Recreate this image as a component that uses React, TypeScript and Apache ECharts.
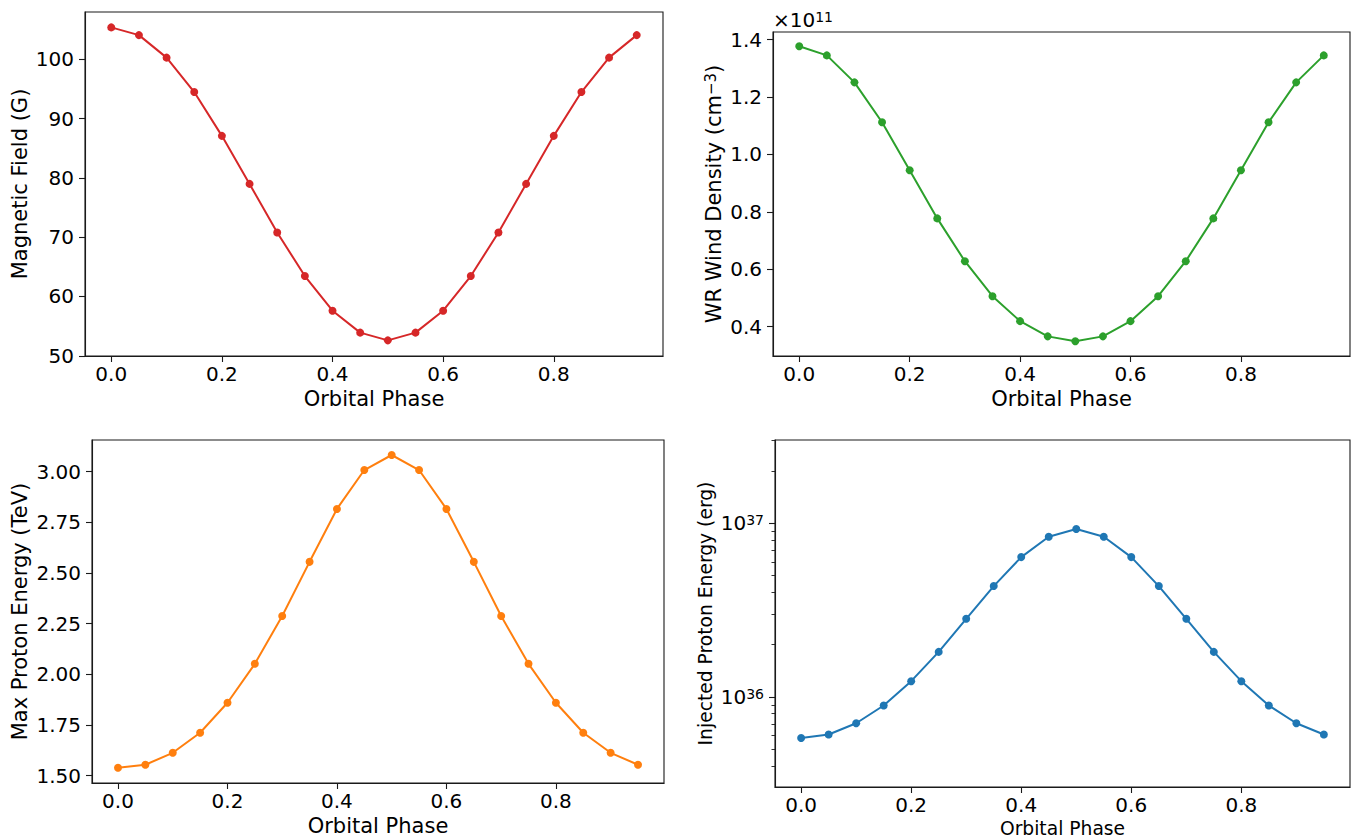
import React, { useEffect, useRef } from 'react';
import * as echarts from 'echarts';

const phases = [0, 0.05, 0.1, 0.15, 0.2, 0.25, 0.3, 0.35, 0.4, 0.45, 0.5, 0.55, 0.6, 0.65, 0.7, 0.75, 0.8, 0.85, 0.9, 0.95];
const magneticField = [105.4, 104.1, 100.3, 94.5, 87.1, 79.0, 70.8, 63.45, 57.6, 53.9, 52.6, 53.9, 57.6, 63.45, 70.8, 79.0, 87.1, 94.5, 100.3, 104.1];
const windDensity = [1.377e11, 1.345e11, 1.251e11, 1.112e11, 0.945e11, 0.777e11, 0.628e11, 0.506e11, 0.419e11, 0.366e11, 0.349e11, 0.366e11, 0.419e11, 0.506e11, 0.628e11, 0.777e11, 0.945e11, 1.112e11, 1.251e11, 1.345e11];
const maxProtonEnergy = [1.539, 1.554, 1.613, 1.712, 1.86, 2.052, 2.288, 2.555, 2.816, 3.008, 3.082, 3.008, 2.816, 2.555, 2.288, 2.052, 1.86, 1.712, 1.613, 1.554];
const injectedEnergy = [5.8e35, 6.07e35, 7.05e35, 8.92e35, 1.232e36, 1.817e36, 2.817e36, 4.35e36, 6.39e36, 8.37e36, 9.27e36, 8.37e36, 6.39e36, 4.35e36, 2.817e36, 1.817e36, 1.232e36, 8.92e35, 7.05e35, 6.07e35];

const xTicks = [0, 0.2, 0.4, 0.6, 0.8];
const magTicks = [50, 60, 70, 80, 90, 100];
const densityTicks = [0.4e11, 0.6e11, 0.8e11, 1.0e11, 1.2e11, 1.4e11];
const protonTicks = [1.5, 1.75, 2.0, 2.25, 2.5, 2.75, 3.0];
const injectedTicks = [1e36, 1e37];
const injectedMinorTicks = [4e35, 5e35, 6e35, 7e35, 8e35, 9e35, 2e36, 3e36, 4e36, 5e36, 6e36, 7e36, 8e36, 9e36, 2e37, 3e37];

const FONT = 'DejaVu Sans';
const INK = '#000';
const SPINE = '#1a1a1a';
const NAME = 21;

export default function App() {
  const ref = useRef<HTMLDivElement>(null);
  useEffect(() => {
    if (!ref.current) return;
    const chart = echarts.init(ref.current, null, { renderer: 'svg' });

    const axisLine = { show: true, onZero: false, lineStyle: { color: SPINE, width: 1.1 } };

    const xAxisDef = (gridIndex: number, nameSize: number, nameGap: number, lineHeight?: number) => ({
      type: 'value',
      gridIndex,
      min: -0.0475,
      max: 0.9975,
      name: 'Orbital Phase',
      nameLocation: 'middle',
      nameGap,
      nameTextStyle: { fontFamily: FONT, fontSize: nameSize, color: INK, lineHeight },
      axisLine,
      axisTick: { show: true, inside: false, length: 6, customValues: xTicks, lineStyle: { color: SPINE, width: 1.1 } },
      axisLabel: { show: true, margin: 8, customValues: xTicks, fontFamily: FONT, fontSize: 20, color: INK, formatter: (v: number) => v.toFixed(1) },
      splitLine: { show: false },
    });

    const yAxisDef = (gridIndex: number, min: number, max: number, ticks: number[], fmt: (v: number) => string, name: string, nameGap: number, rich?: any) => ({
      type: 'value',
      gridIndex,
      min,
      max,
      name,
      nameLocation: 'middle',
      nameGap,
      nameTextStyle: { fontFamily: FONT, fontSize: NAME, color: INK, rich },
      axisLine,
      axisTick: { show: true, inside: false, length: 6, customValues: ticks, lineStyle: { color: SPINE, width: 1.1 } },
      axisLabel: { show: true, margin: 11, customValues: ticks, fontFamily: FONT, fontSize: 20, color: INK, formatter: fmt },
      splitLine: { show: false },
    });

    const series = (idx: number, values: number[], color: string) => ({
      type: 'line',
      xAxisIndex: idx,
      yAxisIndex: idx,
      data: phases.map((p, i) => [p, values[i]]),
      symbol: 'circle',
      symbolSize: 8,
      showSymbol: true,
      itemStyle: { color },
      lineStyle: { color, width: 2 },
      emphasis: { disabled: true },
    });

    const gridBase = { show: true, borderColor: SPINE, borderWidth: 1.1, backgroundColor: 'transparent', outerBoundsMode: 'none' };

    chart.setOption({
      animation: false,
      backgroundColor: '#fff',
      textStyle: { fontFamily: FONT },
      grid: [
        { ...gridBase, left: 85, top: 12, width: 578, height: 344 },
        { ...gridBase, left: 773, top: 32, width: 577, height: 324 },
        { ...gridBase, left: 92, top: 440, width: 572, height: 343 },
        { ...gridBase, left: 775, top: 440, width: 575, height: 347 },
      ],
      xAxis: [
        xAxisDef(0, NAME, 32),
        xAxisDef(1, NAME, 32),
        xAxisDef(2, NAME, 32),
        xAxisDef(3, 18.7, 32, 18),
      ],
      yAxis: [
        yAxisDef(0, 49.96, 108.0, magTicks, (v: number) => String(Math.round(v)), 'Magnetic Field (G)', 55),
        yAxisDef(1, 0.2976e11, 1.4265e11, densityTicks, (v: number) => (v / 1e11).toFixed(1), '{b|WR Wind Density (cm}{s|−3}{b|)}', 48, {
          b: { fontFamily: FONT, fontSize: NAME, lineHeight: 22, color: INK },
          s: { fontFamily: FONT, fontSize: 15, lineHeight: 12, verticalAlign: 'top', color: INK },
        }),
        yAxisDef(2, 1.464, 3.156, protonTicks, (v: number) => v.toFixed(2), 'Max Proton Energy (TeV)', 62),
        {
          type: 'log',
          logBase: 10,
          gridIndex: 3,
          min: Math.pow(10, 35.481),
          max: Math.pow(10, 37.48),
          name: 'Injected Proton Energy (erg)',
          nameLocation: 'middle',
          nameGap: 60,
          nameTextStyle: { fontFamily: FONT, fontSize: 18.7, color: INK },
          axisLine,
          axisTick: { show: true, inside: false, length: 6, customValues: injectedTicks, lineStyle: { color: SPINE, width: 1.1 } },
          axisLabel: {
            show: true,
            margin: 11,
            customValues: injectedTicks,
            color: INK,
            formatter: (v: number) => `{b|10}{s|${Math.round(Math.log10(v))}}`,
            rich: {
              b: { fontFamily: FONT, fontSize: 20, lineHeight: 20, color: INK },
              s: { fontFamily: FONT, fontSize: 14, lineHeight: 10, verticalAlign: 'top', color: INK },
            },
          },
          splitLine: { show: false },
        },
        {
          type: 'log',
          logBase: 10,
          gridIndex: 3,
          position: 'left',
          offset: 0,
          min: Math.pow(10, 35.481),
          max: Math.pow(10, 37.48),
          axisLine: { show: false, onZero: false },
          axisTick: { show: true, inside: false, length: 3.5, customValues: injectedMinorTicks, lineStyle: { color: SPINE, width: 0.9 } },
          axisLabel: { show: false },
          splitLine: { show: false },
        },
      ],
      series: [
        series(0, magneticField, '#d62728'),
        series(1, windDensity, '#2ca02c'),
        series(2, maxProtonEnergy, '#ff7f0e'),
        series(3, injectedEnergy, '#1f77b4'),
      ],
      graphic: [
        {
          type: 'text',
          x: 773,
          y: 20,
          style: {
            text: '{b|×10}{s|11}',
            verticalAlign: 'middle',
            align: 'left',
            rich: {
              b: { fontFamily: FONT, fontSize: 20, lineHeight: 20, fill: INK, color: INK },
              s: { fontFamily: FONT, fontSize: 14, lineHeight: 10, verticalAlign: 'top', fill: INK, color: INK },
            },
          },
        },
      ],
    });
    return () => chart.dispose();
  }, []);
  return <div ref={ref} style={{ position: 'absolute', left: 0, top: 0, width: 1363, height: 838 }} />;
}
